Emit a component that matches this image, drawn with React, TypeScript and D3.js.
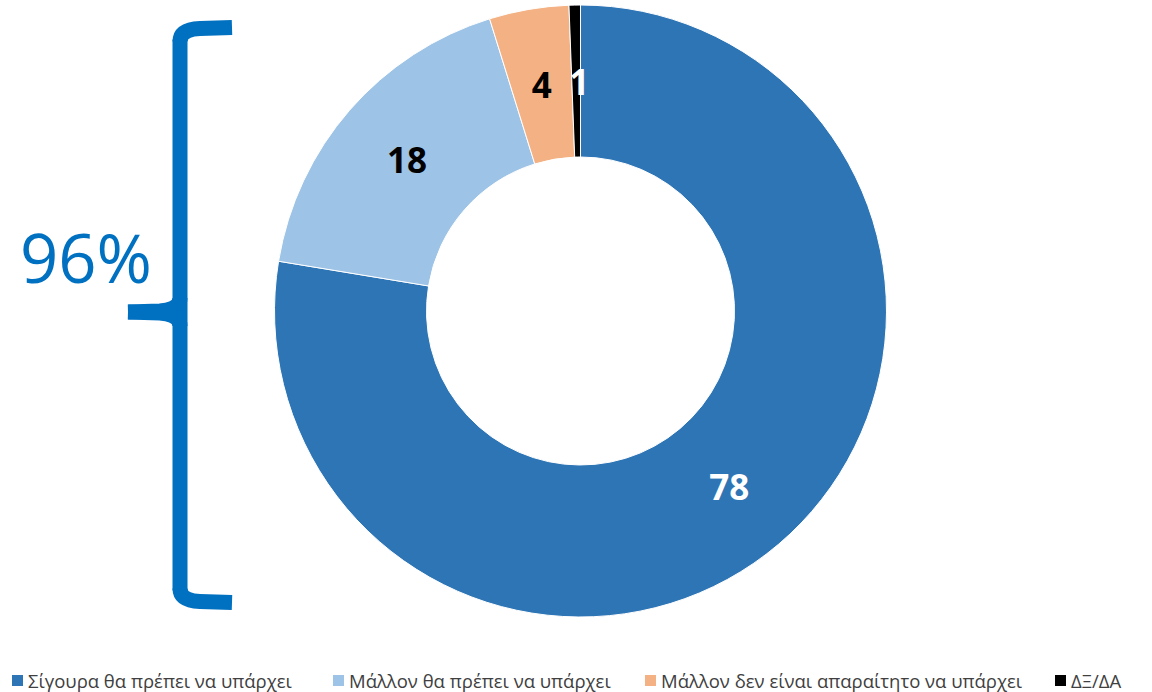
import React, { useEffect, useRef } from "react";
import * as d3 from "d3";

const categories = [
  "Σίγουρα θα πρέπει να υπάρχει",
  "Μάλλον θα πρέπει να υπάρχει",
  "Μάλλον δεν είναι απαραίτητο να υπάρχει",
  "ΔΞ/ΔΑ",
];
const values = [77.6, 17.6, 4.2, 0.6];
const colors = ["#2E75B6", "#9DC3E6", "#F4B183", "#000000"];
const labelColors = ["#FFFFFF", "#000000", "#000000", "#FFFFFF"];
const bracketLabel = "96%";

const W = 1152;
const H = 692;

export default function App() {
  const ref = useRef<SVGSVGElement>(null);

  useEffect(() => {
    const svg = d3.select(ref.current);
    svg.selectAll("*").remove();

    const cx = 580.5;
    const cy = 311;
    const rOuter = 306;
    const rInner = 154;

    const pie = d3.pie<number>().sort(null).value((d) => d);
    const arcs = pie(values);
    const arc = d3.arc<d3.PieArcDatum<number>>().innerRadius(rInner).outerRadius(rOuter);

    const g = svg.append("g").attr("transform", `translate(${cx},${cy})`);
    g.selectAll("path.slice")
      .data(arcs)
      .join("path")
      .attr("class", "slice")
      .attr("d", arc as any)
      .attr("fill", (_, i) => colors[i])
      .attr("stroke", "#fff")
      .attr("stroke-width", 1);

    const labelArc = d3.arc<d3.PieArcDatum<number>>()
      .innerRadius((rInner + rOuter) / 2)
      .outerRadius((rInner + rOuter) / 2);

    g.selectAll("text.lbl")
      .data(arcs)
      .join("text")
      .attr("class", "lbl")
      .attr("transform", (d) => {
        const [x, y] = labelArc.centroid(d);
        return `translate(${x},${y})`;
      })
      .attr("dx", (_, i) => (i === 3 ? 3 : 0))
      .attr("text-anchor", "middle")
      .attr("dominant-baseline", "central")
      .attr("font-family", "'Open Sans', sans-serif")
      .attr("font-weight", "bold")
      .attr("font-size", 35)
      .attr("fill", (_, i) => labelColors[i])
      .text((d) => String(Math.round(d.data)));

    // bracket
    const bc = "#0070C0";
    const bx = 180;
    const yTop = 27.5;
    const yBot = 602.5;
    const yMid = 312;
    const bracket = [
      `M232,${yTop} L200,${yTop + 1} Q${bx},${yTop + 2} ${bx},${yTop + 14}`,
      `M${bx},${yTop + 12} L${bx},${yBot - 12}`,
      `M232,${yBot} L200,${yBot - 1} Q${bx},${yBot - 2} ${bx},${yBot - 14}`,
      `M128,${yMid} L160,${yMid - 1} Q${bx},${yMid - 3} ${bx},${yMid - 14}`,
      `M128,${yMid} L160,${yMid + 1} Q${bx},${yMid + 3} ${bx},${yMid + 14}`,
    ];
    svg.append("g")
      .selectAll("path")
      .data(bracket)
      .join("path")
      .attr("d", (d) => d)
      .attr("fill", "none")
      .attr("stroke", bc)
      .attr("stroke-width", 15);

    svg.append("text")
      .attr("x", 86)
      .attr("y", 283)
      .attr("text-anchor", "middle")
      .attr("font-family", "'Open Sans', sans-serif")
      .attr("font-size", 67)
      .attr("fill", bc)
      .text(bracketLabel);

    // legend
    const legendX = [12, 333, 645, 1055];
    const legendY = 680;
    const lg = svg.append("g");
    categories.forEach((c, i) => {
      lg.append("rect")
        .attr("x", legendX[i])
        .attr("y", legendY - 5)
        .attr("width", 11)
        .attr("height", 11)
        .attr("fill", colors[i]);
      lg.append("text")
        .attr("x", legendX[i] + 16)
        .attr("y", legendY)
        .attr("dominant-baseline", "central")
        .attr("font-family", "'Open Sans', sans-serif")
        .attr("font-size", 18.5)
        .attr("fill", "#404040")
        .text(c);
    });
  }, []);

  return (
    <svg
      ref={ref}
      width={W}
      height={H}
      style={{ position: "absolute", left: 0, top: 0, background: "#fff" }}
    />
  );
}
